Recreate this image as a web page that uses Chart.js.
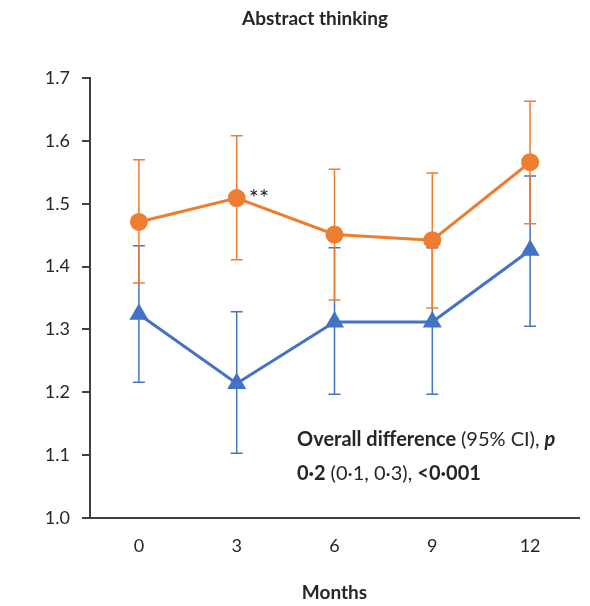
<!DOCTYPE html>
<html>
<head>
<meta charset="utf-8">
<script src="https://cdn.jsdelivr.net/npm/chart.js@4"></script>
<style>
  html, body { margin: 0; padding: 0; background: #fff; }
  #wrap { width: 590px; height: 606px; }
</style>
</head>
<body>
<div id="wrap"><canvas id="myChart" width="590" height="606"></canvas></div>
<script>
// dados
const monthLabels = ["0", "3", "6", "9", "12"];

const orangeMean = [1.471, 1.509, 1.451, 1.442, 1.566];
const orangeLow = [1.374, 1.411, 1.347, 1.334, 1.468];
const orangeHigh = [1.570, 1.608, 1.555, 1.549, 1.663];

const blueMean = [1.324, 1.214, 1.312, 1.312, 1.426];
const blueLow = [1.216, 1.103, 1.197, 1.197, 1.305];
const blueHigh = [1.433, 1.328, 1.430, 1.430, 1.544];

const yTicks = [1.0, 1.1, 1.2, 1.3, 1.4, 1.5, 1.6, 1.7];

const FONT = "Lato";
const AXIS_COLOR = "#404040";
const TEXT_COLOR = "#262626";

// barras de erro (IC 95%)
const errorBars = {
  id: "errorBars",
  beforeDatasetsDraw(chart) {
    const ctx = chart.ctx;
    const x = chart.scales.x;
    const y = chart.scales.y;
    chart.data.datasets.forEach((ds) => {
      ctx.save();
      ctx.strokeStyle = ds.borderColor;
      ctx.lineWidth = 1.5;
      ds.low.forEach((lo, i) => {
        const px = x.getPixelForValue(i);
        const y1 = y.getPixelForValue(lo);
        const y2 = y.getPixelForValue(ds.high[i]);
        ctx.beginPath();
        ctx.moveTo(px, y1);
        ctx.lineTo(px, y2);
        ctx.moveTo(px - 6, y1);
        ctx.lineTo(px + 6, y1);
        ctx.moveTo(px - 6, y2);
        ctx.lineTo(px + 6, y2);
        ctx.stroke();
      });
      ctx.restore();
    });
  }
};

// título e anotações
const annotations = {
  id: "annotations",
  afterDraw(chart) {
    const ctx = chart.ctx;
    ctx.save();
    ctx.fillStyle = TEXT_COLOR;
    ctx.textBaseline = "alphabetic";

    ctx.textAlign = "center";
    ctx.font = "bold 19px " + FONT;
    ctx.fillText("Abstract thinking", 315, 25);

    // ** junto ao ponto de 3 meses
    const px = chart.scales.x.getPixelForValue(1);
    const py = chart.scales.y.getPixelForValue(orangeMean[1]);
    ctx.textAlign = "left";
    ctx.font = "24px " + FONT;
    ctx.fillText("**", px + 12, py + 8);

    // texto da diferença
    function parts(list, x, y) {
      list.forEach(([txt, font]) => {
        ctx.font = font;
        ctx.fillText(txt, x, y);
        x += ctx.measureText(txt).width;
      });
    }
    const b = "bold 20px " + FONT;
    const n = "20px " + FONT;
    parts([["Overall difference ", b], ["(95% CI), ", n], ["p", "italic bold 20px " + FONT]], 297, 446);
    parts([["0·2 ", b], ["(0·1, 0·3), ", n], ["<0·001", b]], 297, 480);
    ctx.restore();
  }
};

const ctx = document.getElementById("myChart").getContext("2d");

const myChart = new Chart(ctx, {
  type: "line",
  data: {
    labels: monthLabels,
    datasets: [
      {
        label: "Blue",
        data: blueMean,
        low: blueLow,
        high: blueHigh,
        borderColor: "#4472C4",
        backgroundColor: "#4472C4",
        borderWidth: 3,
        pointStyle: "triangle",
        pointRadius: 8,
        pointHoverRadius: 8,
        tension: 0,
      },
      {
        label: "Orange",
        data: orangeMean,
        low: orangeLow,
        high: orangeHigh,
        borderColor: "#ED7D31",
        backgroundColor: "#ED7D31",
        borderWidth: 3,
        pointStyle: "circle",
        pointRadius: 7.5,
        pointHoverRadius: 7.5,
        tension: 0,
      },
    ],
  },
  options: {
    responsive: false,
    animation: { duration: 0 },
    layout: { padding: { top: 78, right: 10, bottom: 2, left: 0 } },
    scales: {
      x: {
        offset: true,
        grid: { display: true, drawOnChartArea: false, drawTicks: false },
        border: { display: true, color: AXIS_COLOR, width: 2 },
        ticks: {
          color: TEXT_COLOR,
          padding: 17,
          font: { family: FONT, size: 18 },
        },
        title: {
          display: true,
          text: "Months",
          color: TEXT_COLOR,
          padding: 0,
          font: { family: FONT, size: 19, weight: "bold" },
        },
        afterFit(scale) {
          scale.height = 86;
        },
      },
      y: {
        min: 1.0,
        max: 1.7,
        afterBuildTicks(scale) {
          scale.ticks = yTicks.map((v) => ({ value: v }));
        },
        grid: {
          display: true,
          drawOnChartArea: false,
          drawTicks: true,
          tickLength: 8,
          color: AXIS_COLOR,
          lineWidth: 2,
        },
        border: { display: true, color: AXIS_COLOR, width: 2 },
        ticks: {
          color: TEXT_COLOR,
          padding: 12,
          font: { family: FONT, size: 18 },
          callback: (v) => Number(v).toFixed(1),
        },
        afterFit(scale) {
          scale.width = 90;
        },
      },
    },
    plugins: {
      legend: { display: false },
      tooltip: { enabled: false },
    },
  },
  plugins: [errorBars, annotations],
});
</script>
</body>
</html>
